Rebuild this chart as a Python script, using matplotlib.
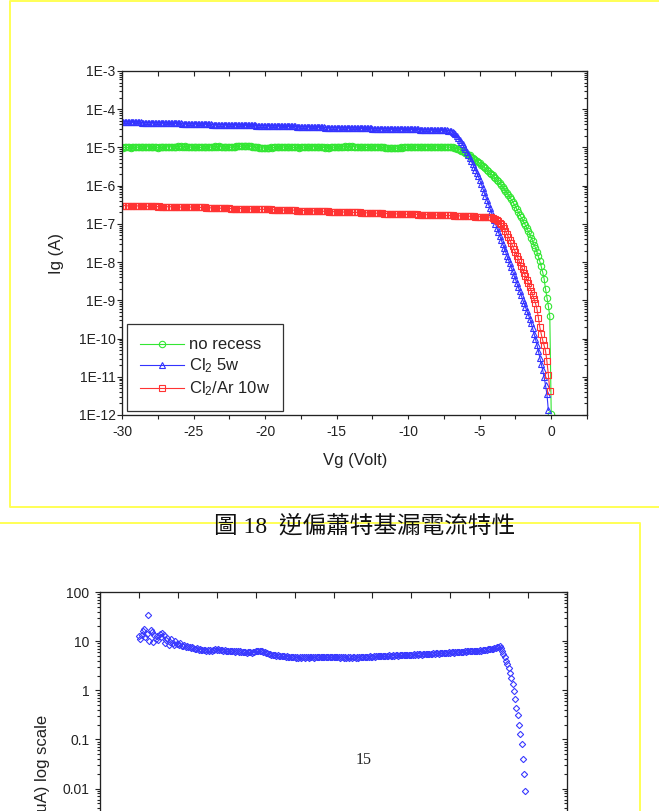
import numpy as np
import matplotlib
matplotlib.use("Agg")
import matplotlib.pyplot as plt
from matplotlib.ticker import MultipleLocator, LogLocator, FuncFormatter, NullFormatter
from matplotlib.lines import Line2D

# ---------------- data (log10 of current), 0.1 V steps starting at -30 V ----------------
vg_start, vg_stop, vg_count = -30.0, 0.0, 301

# no recess : log10(Ig / A), -30.0 ... 0.0 V
no_recess_log = [
    -5.00, -5.01, -5.00, -4.99, -5.00, -5.00, -5.01, -5.00, -4.99, -4.99,
    -5.00, -4.99, -4.99, -4.98, -4.99, -4.99, -5.00, -4.99, -4.98, -4.99,
    -4.99, -5.00, -5.00, -4.99, -5.00, -5.01, -5.00, -5.00, -4.99, -5.00,
    -4.99, -4.99, -4.98, -4.99, -4.98, -4.98, -4.99, -4.98, -4.98, -4.97,
    -4.98, -4.97, -4.98, -4.98, -4.97, -4.98, -4.99, -4.98, -4.99, -4.99,
    -5.00, -4.99, -5.00, -5.00, -4.99, -5.00, -4.99, -4.99, -4.98, -4.99,
    -4.99, -4.98, -4.99, -4.98, -4.98, -4.97, -4.98, -4.98, -4.97, -4.98,
    -4.98, -4.99, -4.98, -4.99, -4.99, -5.00, -4.99, -4.99, -4.98, -4.98,
    -4.97, -4.97, -4.96, -4.97, -4.96, -4.96, -4.97, -4.96, -4.96, -4.97,
    -4.97, -4.98, -4.98, -4.99, -5.00, -5.00, -5.01, -5.01, -5.02, -5.01,
    -5.01, -5.02, -5.01, -5.01, -5.00, -5.01, -5.00, -5.00, -4.99, -5.00,
    -4.99, -4.99, -4.98, -4.99, -4.98, -4.98, -4.99, -4.98, -4.99, -4.99,
    -5.00, -4.99, -5.00, -5.00, -5.01, -5.00, -5.00, -4.99, -5.00, -4.99,
    -4.99, -4.98, -4.99, -4.98, -4.98, -4.99, -4.98, -4.99, -4.99, -5.00,
    -5.00, -5.00, -5.01, -5.00, -5.01, -5.01, -5.00, -5.00, -4.99, -5.00,
    -4.99, -4.99, -4.98, -4.99, -4.98, -4.98, -4.97, -4.98, -4.98, -4.97,
    -4.98, -4.97, -4.98, -4.98, -4.99, -4.98, -4.99, -4.99, -5.00, -4.99,
    -5.00, -5.00, -4.99, -5.00, -4.99, -4.99, -4.98, -4.99, -4.98, -4.98,
    -4.99, -4.99, -5.00, -5.00, -5.01, -5.01, -5.02, -5.01, -5.02, -5.02,
    -5.02, -5.01, -5.02, -5.01, -5.01, -5.00, -5.01, -5.00, -5.00, -4.99,
    -5.00, -4.99, -4.99, -4.99, -5.00, -4.99, -4.99, -4.98, -4.99, -4.98,
    -4.98, -4.99, -4.98, -4.98, -4.99, -4.98, -4.98, -4.99, -4.99, -4.98,
    -4.99, -4.98, -4.99, -4.99, -4.99, -4.98, -4.99, -4.99, -5.00, -4.99,
    -5.00,
    -5.00, -5.01, -5.02, -5.03, -5.04, -5.06, -5.08, -5.10, -5.12, -5.14,
    -5.16, -5.19, -5.21, -5.24, -5.27, -5.30, -5.33, -5.36, -5.39, -5.42,
    -5.45, -5.49, -5.52, -5.55, -5.59, -5.62, -5.66, -5.70, -5.73, -5.77,
    -5.81, -5.85, -5.89, -5.93, -5.98, -6.03, -6.08, -6.13, -6.18, -6.24,
    -6.30, -6.36, -6.42, -6.48, -6.55, -6.62, -6.69, -6.76, -6.83, -6.90,
    -6.97, -7.04, -7.12, -7.19, -7.27, -7.36, -7.45, -7.54, -7.63, -7.73,
    -7.85, -7.98, -8.11, -8.26, -8.43, -8.70, -8.93, -9.15, -9.42, -11.97,
]

# Cl2 5w : log10(Ig / A), -30.0 ... -0.2 V
cl2_5w_log = [
    -4.33, -4.33, -4.33, -4.33, -4.33, -4.34, -4.34, -4.34, -4.34, -4.34,
    -4.34, -4.34, -4.34, -4.34, -4.35, -4.35, -4.35, -4.35, -4.35, -4.35,
    -4.35, -4.35, -4.35, -4.36, -4.36, -4.36, -4.36, -4.36, -4.36, -4.36,
    -4.36, -4.36, -4.37, -4.37, -4.37, -4.37, -4.37, -4.37, -4.37, -4.37,
    -4.37, -4.37, -4.38, -4.38, -4.38, -4.38, -4.38, -4.38, -4.38, -4.38,
    -4.38, -4.38, -4.38, -4.39, -4.39, -4.39, -4.39, -4.39, -4.39, -4.39,
    -4.39, -4.39, -4.39, -4.40, -4.40, -4.40, -4.40, -4.40, -4.40, -4.40,
    -4.40, -4.40, -4.40, -4.41, -4.41, -4.41, -4.41, -4.41, -4.41, -4.41,
    -4.41, -4.41, -4.41, -4.41, -4.42, -4.42, -4.42, -4.42, -4.42, -4.42,
    -4.42, -4.42, -4.42, -4.42, -4.43, -4.43, -4.43, -4.43, -4.43, -4.43,
    -4.43, -4.43, -4.43, -4.44, -4.44, -4.44, -4.44, -4.44, -4.44, -4.44,
    -4.44, -4.44, -4.45, -4.45, -4.45, -4.45, -4.45, -4.45, -4.45, -4.45,
    -4.45, -4.45, -4.46, -4.46, -4.46, -4.46, -4.46, -4.46, -4.46, -4.46,
    -4.46, -4.46, -4.47, -4.47, -4.47, -4.47, -4.47, -4.47, -4.47, -4.47,
    -4.47, -4.47, -4.48, -4.48, -4.48, -4.48, -4.48, -4.48, -4.48, -4.48,
    -4.48, -4.48, -4.48, -4.49, -4.49, -4.49, -4.49, -4.49, -4.49, -4.49,
    -4.49, -4.49, -4.49, -4.49, -4.50, -4.50, -4.50, -4.50, -4.50, -4.50,
    -4.50, -4.50, -4.50, -4.50, -4.50, -4.51, -4.51, -4.51, -4.51, -4.51,
    -4.51, -4.51, -4.51, -4.51, -4.51, -4.51, -4.52, -4.52, -4.52, -4.52,
    -4.52, -4.52, -4.52, -4.52, -4.52, -4.52, -4.52, -4.53, -4.53, -4.53,
    -4.53, -4.53, -4.53, -4.53, -4.53, -4.53, -4.53, -4.53, -4.54, -4.54,
    -4.54, -4.54, -4.54, -4.54, -4.54, -4.54, -4.54, -4.54, -4.54, -4.55,
    -4.55, -4.55, -4.55, -4.55, -4.55, -4.55, -4.55, -4.55, -4.56, -4.56,
    -4.56,
    -4.59, -4.62, -4.66, -4.70, -4.75, -4.80, -4.86, -4.92, -4.98, -5.05,
    -5.12, -5.19, -5.27, -5.35, -5.43, -5.51, -5.59, -5.67, -5.76, -5.85,
    -5.95, -6.05, -6.16, -6.26, -6.37, -6.47, -6.58, -6.68, -6.79, -6.90,
    -7.00, -7.10, -7.21, -7.31, -7.41, -7.52, -7.62, -7.72, -7.83, -7.93,
    -8.03, -8.14, -8.24, -8.35, -8.45, -8.55, -8.66, -8.76, -8.87, -8.98,
    -9.08, -9.18, -9.28, -9.38, -9.48, -9.60, -9.73, -9.87, -10.01, -10.16,
    -10.33, -10.50, -10.66, -10.82, -11.00, -11.22, -11.46, -11.88,
]

# Cl2/Ar 10w : log10(Ig / A), -30.0 ... -0.1 V
cl2_ar_10w_log = [
    -6.52, -6.52, -6.52, -6.52, -6.53, -6.53, -6.52, -6.53, -6.53, -6.53,
    -6.53, -6.53, -6.53, -6.53, -6.53, -6.54, -6.53, -6.54, -6.54, -6.54,
    -6.54, -6.54, -6.54, -6.54, -6.54, -6.55, -6.54, -6.55, -6.55, -6.55,
    -6.55, -6.55, -6.55, -6.55, -6.55, -6.55, -6.55, -6.56, -6.55, -6.56,
    -6.56, -6.56, -6.56, -6.56, -6.56, -6.56, -6.56, -6.56, -6.56, -6.56,
    -6.56, -6.57, -6.57, -6.57, -6.57, -6.57, -6.57, -6.57, -6.57, -6.58,
    -6.58, -6.58, -6.58, -6.58, -6.58, -6.58, -6.58, -6.59, -6.59, -6.59,
    -6.59, -6.59, -6.59, -6.59, -6.59, -6.59, -6.60, -6.60, -6.60, -6.60,
    -6.60, -6.60, -6.60, -6.60, -6.60, -6.61, -6.61, -6.61, -6.61, -6.61,
    -6.61, -6.61, -6.61, -6.61, -6.61, -6.61, -6.62, -6.62, -6.62, -6.62,
    -6.62, -6.62, -6.62, -6.62, -6.62, -6.63, -6.63, -6.63, -6.63, -6.63,
    -6.63, -6.63, -6.63, -6.64, -6.64, -6.64, -6.64, -6.64, -6.64, -6.64,
    -6.64, -6.64, -6.65, -6.65, -6.65, -6.65, -6.65, -6.65, -6.65, -6.66,
    -6.66, -6.66, -6.66, -6.66, -6.66, -6.66, -6.66, -6.67, -6.67, -6.67,
    -6.67, -6.67, -6.67, -6.67, -6.67, -6.68, -6.68, -6.68, -6.68, -6.68,
    -6.68, -6.68, -6.68, -6.69, -6.69, -6.69, -6.69, -6.69, -6.69, -6.69,
    -6.70, -6.70, -6.70, -6.70, -6.70, -6.70, -6.70, -6.71, -6.71, -6.71,
    -6.71, -6.71, -6.71, -6.71, -6.71, -6.72, -6.72, -6.72, -6.72, -6.72,
    -6.72, -6.72, -6.72, -6.73, -6.73, -6.73, -6.73, -6.73, -6.73, -6.73,
    -6.73, -6.74, -6.74, -6.74, -6.74, -6.74, -6.74, -6.74, -6.74, -6.75,
    -6.75, -6.75, -6.75, -6.75, -6.75, -6.75, -6.75, -6.76, -6.76, -6.76,
    -6.76, -6.76, -6.76, -6.76, -6.76, -6.77, -6.77, -6.77, -6.77, -6.77,
    -6.77, -6.77, -6.77, -6.77, -6.78, -6.78, -6.78, -6.78, -6.78, -6.78,
    -6.78, -6.78, -6.79, -6.79, -6.79, -6.79, -6.79, -6.79, -6.79, -6.80,
    -6.80, -6.80, -6.80, -6.80, -6.80, -6.80, -6.80, -6.81, -6.81, -6.81,
    -6.81, -6.81, -6.81, -6.81, -6.82, -6.82, -6.82, -6.82,
    -6.83, -6.84, -6.86, -6.88, -6.90, -6.93, -6.97, -7.01, -7.06, -7.12,
    -7.19, -7.26, -7.34, -7.42, -7.50, -7.58, -7.66, -7.74, -7.83, -7.92,
    -8.01, -8.10, -8.19, -8.28, -8.37, -8.46, -8.55, -8.65, -8.75, -8.86,
    -8.97, -9.08, -9.22, -9.45, -9.70, -9.88, -10.04, -10.18, -10.32, -10.60,
    -10.95, -11.37,
]

# lower chart : log10(I / uA), -30.0 ... 0.0 V
lower_log = [
    1.10, 1.05, 1.13, 1.20, 1.25, 1.08, 1.15, 1.54, 1.00, 1.22,
    1.18, 0.98, 1.12, 1.05, 1.10, 1.02, 1.14, 1.08, 1.17, 1.12,
    0.97, 1.02, 1.06, 0.93, 0.99, 1.04, 0.96, 0.92, 1.00, 0.95,
    0.94, 0.92, 0.96, 0.90, 0.91, 0.93, 0.89, 0.90, 0.88, 0.89,
    0.87, 0.88, 0.86, 0.85, 0.84, 0.86, 0.83, 0.84, 0.82, 0.83,
    0.82, 0.83, 0.81, 0.82, 0.80, 0.82, 0.81, 0.83, 0.82, 0.84,
    0.83, 0.84, 0.83, 0.83, 0.82, 0.81, 0.82, 0.80, 0.81, 0.80,
    0.79, 0.80, 0.81, 0.79, 0.78, 0.80, 0.79, 0.78, 0.79, 0.78,
    0.77, 0.78, 0.77, 0.76, 0.77, 0.78, 0.77, 0.76, 0.77, 0.78,
    0.79, 0.79, 0.80, 0.79, 0.80, 0.79, 0.78, 0.77, 0.76, 0.75,
    0.74, 0.73, 0.72, 0.72, 0.71, 0.71, 0.70, 0.71, 0.70, 0.69,
    0.70, 0.69, 0.69, 0.68, 0.69, 0.68, 0.68, 0.67, 0.68, 0.67,
    0.67, 0.66, 0.67, 0.66, 0.67, 0.66, 0.67, 0.67, 0.66, 0.67,
    0.67, 0.66, 0.67, 0.68, 0.67, 0.66, 0.67, 0.68, 0.67, 0.67,
    0.68, 0.67, 0.68, 0.67, 0.68, 0.68, 0.67, 0.68, 0.68, 0.67,
    0.68, 0.67, 0.67, 0.68, 0.67, 0.66, 0.67, 0.67, 0.66, 0.67,
    0.66, 0.67, 0.66, 0.67, 0.66, 0.67, 0.67, 0.66, 0.67, 0.66,
    0.67, 0.67, 0.68, 0.67, 0.68, 0.67, 0.68, 0.68, 0.69, 0.68,
    0.68, 0.69, 0.68, 0.69, 0.69, 0.70, 0.69, 0.70, 0.69, 0.70,
    0.70, 0.69, 0.70, 0.71, 0.70, 0.70, 0.71, 0.70, 0.71, 0.71,
    0.70, 0.71, 0.71, 0.72, 0.71, 0.72, 0.71, 0.72, 0.72, 0.71,
    0.72, 0.72, 0.73, 0.72, 0.73, 0.72, 0.73, 0.73, 0.72, 0.73,
    0.73, 0.74, 0.73, 0.74, 0.74, 0.73, 0.74, 0.75, 0.74, 0.75,
    0.75, 0.74, 0.75, 0.76, 0.75, 0.76, 0.76, 0.75, 0.76, 0.77,
    0.76, 0.77, 0.77, 0.76, 0.77, 0.78, 0.77, 0.78, 0.78, 0.77,
    0.78, 0.79, 0.78, 0.79, 0.79, 0.80, 0.79, 0.80, 0.80, 0.81,
    0.81, 0.80, 0.81, 0.82, 0.81, 0.82, 0.82, 0.83, 0.83, 0.84,
    0.84, 0.84, 0.85, 0.85, 0.86, 0.87, 0.88, 0.89,
    0.90, 0.86, 0.80, 0.74, 0.67, 0.60, 0.53, 0.45, 0.36, 0.26,
    0.12, -0.02, -0.18, -0.35, -0.51, -0.70, -0.88, -1.10, -1.40, -1.70,
    -2.05, -2.60, -3.30,
]

top_labels = ["no recess", r"Cl$_\mathrm{2}$ 5w", r"Cl$_\mathrm{2}$/Ar 10w"]
top_xticks = [-30, -25, -20, -15, -10, -5, 0]
lower_yticks = [100, 10, 1, 0.1, 0.01]

# ---------------- figure ----------------
plt.rcParams['font.family'] = ['Liberation Sans', 'Noto Sans CJK TC']
plt.rcParams['mathtext.fontset'] = 'custom'
plt.rcParams['mathtext.rm'] = 'Liberation Sans'
plt.rcParams['mathtext.it'] = 'Liberation Sans:italic'

W, H = 659, 811
fig = plt.figure(figsize=(W / 100, H / 100), dpi=100, facecolor='white')

def fx(px):
    return px / W

def fy(py):
    return 1 - py / H

vg = np.linspace(vg_start, vg_stop, vg_count)
ink = '#222222'
green, blue, red = '#33e633', '#3333ff', '#ff3333'

# ----- top chart -----
ax = fig.add_axes([fx(122), fy(415), fx(587) - fx(122), fy(71) - fy(415)])
ax.set_yscale('log')
series = [(no_recess_log, green, 'o', 4.6), (cl2_5w_log, blue, '^', 4.8), (cl2_ar_10w_log, red, 's', 4.0)]
for (vals, col, mk, ms), lab in zip(series, top_labels):
    v = vg[:len(vals)]
    ax.plot(v, 10.0 ** np.array(vals), color=col, lw=0.8, marker=mk, ms=ms,
            mfc='none', mec=col, mew=0.8, label=lab)
ax.set_xlim(-30, 2.5)
ax.set_ylim(1e-12, 1e-3)
ax.set_xticks(top_xticks)
ax.xaxis.set_minor_locator(MultipleLocator(2.5))
ax.yaxis.set_major_locator(LogLocator(base=10, numticks=30))
ax.yaxis.set_minor_locator(LogLocator(base=10, subs=np.arange(2, 10), numticks=100))
ax.yaxis.set_minor_formatter(NullFormatter())
ax.yaxis.set_major_formatter(FuncFormatter(lambda v, p: '1E%d' % int(round(np.log10(v)))))
ax.xaxis.set_major_formatter(FuncFormatter(lambda v, p: '%d' % v))
ax.tick_params(axis='both', which='both', direction='out', color=ink, labelcolor=ink,
               labelsize=10, width=0.8)
ax.tick_params(axis='x', which='both', length=3.0, pad=4)
ax.tick_params(axis='y', which='major', length=3.6, pad=1)
ax.tick_params(axis='y', which='minor', length=2.0)
for s in ax.spines.values():
    s.set_color(ink)
    s.set_linewidth(0.8)

axr = ax.twinx()
axr.set_yscale('log')
axr.set_ylim(1e-12, 1e-3)
axr.yaxis.set_major_locator(LogLocator(base=10, numticks=30))
axr.yaxis.set_minor_locator(LogLocator(base=10, subs=np.arange(2, 10), numticks=100))
axr.tick_params(axis='y', which='both', direction='in', labelright=False, color=ink, width=0.8)
axr.tick_params(axis='y', which='major', length=3.6)
axr.tick_params(axis='y', which='minor', length=2.0)
axt = ax.twiny()
axt.set_xlim(-30, 2.5)
axt.xaxis.set_major_locator(MultipleLocator(2.5))
axt.tick_params(axis='x', which='both', direction='in', labeltop=False, length=3.6, color=ink, width=0.8)
for a in (axr, axt):
    for s in a.spines.values():
        s.set_color(ink)
        s.set_linewidth(0.8)

leg = ax.legend(loc='upper left', bbox_to_anchor=(fx(127 - 122) / fx(465), (415 - 324) / 344),
                borderaxespad=0, frameon=True, fancybox=False, framealpha=1,
                edgecolor='#333333', fontsize=12, handlelength=2.6, handletextpad=0.3,
                labelspacing=0.25, borderpad=0.8)
leg.get_frame().set_linewidth(0.9)
for t in leg.get_texts():
    t.set_color(ink)

fig.text(fx(57), fy(253), 'Ig (A)', rotation=90, ha='center', va='center', fontsize=12, color=ink)
fig.text(fx(355), fy(460), 'Vg (Volt)', ha='center', va='center', fontsize=12, color=ink)

# ----- lower chart -----
bx = fig.add_axes([fx(100), fy(887), fx(567) - fx(100), fy(592) - fy(887)])
bx.set_yscale('log')
bx.plot(vg[:len(lower_log)], 10.0 ** np.array(lower_log), ls='none', marker='D', ms=3.2,
        mfc='none', mec='#3a3aff', mew=0.8)
bx.set_xlim(-33, 3)
bx.set_ylim(1e-4, 100)
bx.xaxis.set_major_locator(MultipleLocator(3))
bx.set_yticks(lower_yticks)
bx.yaxis.set_minor_locator(LogLocator(base=10, subs=np.arange(2, 10), numticks=100))
bx.yaxis.set_minor_formatter(NullFormatter())
bx.yaxis.set_major_formatter(FuncFormatter(lambda v, p: '%g' % v))
bx.tick_params(axis='both', which='both', direction='out', color=ink, labelcolor=ink,
               labelsize=10, width=0.8)
bx.tick_params(axis='x', labelbottom=False)
bx.tick_params(axis='y', which='major', length=3.6, pad=4)
bx.tick_params(axis='y', which='minor', length=2.0)
for s in bx.spines.values():
    s.set_color(ink)
    s.set_linewidth(0.8)
bxr = bx.twinx()
bxr.set_yscale('log')
bxr.set_ylim(1e-4, 100)
bxr.set_yticks(lower_yticks)
bxr.yaxis.set_minor_locator(LogLocator(base=10, subs=np.arange(2, 10), numticks=100))
bxr.tick_params(axis='y', which='both', direction='in', labelright=False, color=ink, width=0.8)
bxr.tick_params(axis='y', which='major', length=3.6)
bxr.tick_params(axis='y', which='minor', length=2.0)
bxt = bx.twiny()
bxt.set_xlim(-33, 3)
bxt.xaxis.set_major_locator(MultipleLocator(3))
bxt.tick_params(axis='x', which='both', direction='in', labeltop=False, length=4.5, color=ink, width=0.8)
for a in (bxr, bxt):
    for s in a.spines.values():
        s.set_color(ink)
        s.set_linewidth(0.8)

fig.text(fx(43), fy(715), 'Ig (uA) log scale', rotation=90, ha='center', va='top', fontsize=12, color=ink)

# ----- page decorations -----
yel = '#ffff55'
fig.add_artist(Line2D([fx(670), fx(10), fx(10), fx(670)], [fy(1), fy(1), fy(507), fy(507)],
                      transform=fig.transFigure, color=yel, lw=1.4))
fig.add_artist(Line2D([fx(-10), fx(640), fx(640)], [fy(523), fy(523), fy(830)],
                      transform=fig.transFigure, color=yel, lw=1.4))
fig.text(fx(365), fy(527), '圖 18  逆偏蕭特基漏電流特性', ha='center', va='center', fontsize=17,
         family=['Liberation Serif', 'Noto Sans CJK TC'], color='#111111')
fig.text(fx(364), fy(760), '15', ha='center', va='center', fontsize=11.5,
         family=['Liberation Serif'], color='#222222')

fig.savefig('out.png', dpi=100, facecolor='white')
